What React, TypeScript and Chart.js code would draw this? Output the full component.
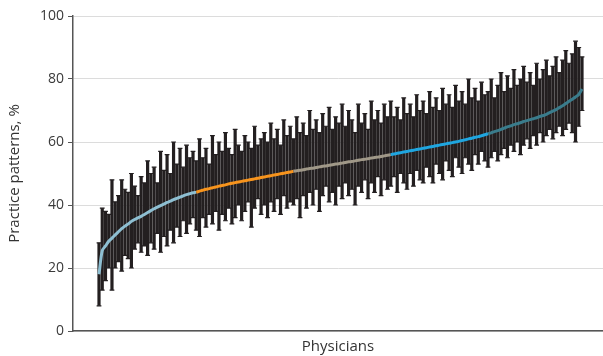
import React, { useEffect, useRef } from "react";
import { Chart, registerables } from "chart.js";

Chart.register(...registerables);

// Physician-level point estimates (sorted), %
const estimates: number[] = [
  18, 25.5, 27, 28.5, 29.5, 30.5, 31.5, 32.5, 33.3, 34,
  34.8, 35.4, 35.9, 36.4, 37, 37.6, 38.2, 38.8, 39.3, 39.8,
  40.3, 40.8, 41.2, 41.7, 42.1, 42.5, 42.9, 43.3, 43.6, 43.9,
  44.1, 44.4, 44.7, 45.0, 45.2, 45.5, 45.7, 46.0, 46.2, 46.4,
  46.7, 46.9, 47.1, 47.3, 47.5, 47.7, 47.9, 48.1, 48.3, 48.5,
  48.7, 48.9, 49.1, 49.3, 49.5, 49.7, 49.9, 50.1, 50.3, 50.5,
  50.7, 50.9, 51.0, 51.2, 51.4, 51.6, 51.7, 51.9, 52.1, 52.3,
  52.4, 52.6, 52.8, 53.0, 53.1, 53.3, 53.5, 53.7, 53.8, 54.0,
  54.2, 54.4, 54.5, 54.7, 54.9, 55.1, 55.2, 55.4, 55.6, 55.8,
  56.0, 56.2, 56.4, 56.6, 56.8, 57.0, 57.2, 57.4, 57.6, 57.8,
  58.0, 58.2, 58.4, 58.6, 58.8, 59.0, 59.2, 59.4, 59.6, 59.8,
  60.0, 60.2, 60.5, 60.7, 61.0, 61.2, 61.5, 61.7, 62.0, 62.3,
  62.6, 62.9, 63.3, 63.6, 64.0, 64.4, 64.8, 65.1, 65.5, 65.8,
  66.1, 66.5, 66.8, 67.1, 67.4, 67.7, 68.1, 68.4, 68.8, 69.3,
  69.8, 70.3, 70.9, 71.5, 72.2, 72.9, 73.6, 74.3, 75.1, 76.8,
];

// Upper limits of the intervals, %
const upperCI: number[] = [
  28, 39, 38, 37, 48, 41, 43, 48, 45, 44,
  50, 46, 43, 49, 47, 54, 50, 52, 47, 57,
  51, 56, 50, 60, 53, 58, 52, 59, 55, 57,
  54, 61, 55, 58, 53, 62, 56, 60, 57, 63,
  58, 56, 64, 59, 57, 62, 60, 58, 65, 59,
  61, 63, 60, 66, 61, 64, 59, 67, 62, 65,
  61, 68, 63, 66, 62, 70, 64, 67, 63, 69,
  65, 71, 64, 68, 66, 72, 65, 70, 67, 63,
  72, 66, 69, 64, 73, 67, 70, 66, 72, 68,
  73, 68, 71, 67, 74, 69, 72, 68, 75, 70,
  73, 69, 76, 71, 74, 70, 77, 72, 75, 71,
  78, 73, 76, 72, 80, 74, 77, 73, 79, 75,
  76, 80, 74, 78, 82, 76, 81, 77, 83, 78,
  80, 84, 79, 82, 78, 85, 80, 83, 86, 81,
  84, 87, 82, 86, 89, 85, 88, 92, 90, 87,
];

// Lower limits of the intervals, %
const lowerCI: number[] = [
  8, 13, 16, 20, 13, 20, 22, 19, 24, 23,
  20, 26, 28, 25, 27, 24, 28, 26, 31, 25,
  30, 27, 32, 28, 33, 30, 35, 31, 34, 36,
  32, 30, 36, 33, 37, 34, 38, 32, 37, 35,
  39, 34, 36, 40, 35, 38, 41, 33, 39, 42,
  37, 40, 36, 41, 38, 42, 37, 43, 39, 41,
  40, 42, 36, 43, 39, 44, 40, 45, 38, 43,
  46, 41, 44, 40, 46, 42, 47, 43, 45, 40,
  46, 44, 48, 42, 47, 44, 49, 43, 48, 45,
  46, 49, 44, 50, 47, 45, 50, 46, 51, 48,
  47, 52, 49, 47, 53, 50, 48, 54, 51, 49,
  55, 52, 50, 55, 53, 51, 56, 53, 57, 54,
  52, 55, 57, 54, 56, 58, 55, 59, 57, 60,
  56, 59, 61, 58, 62, 59, 63, 60, 62, 64,
  61, 63, 65, 62, 64, 66, 63, 60, 65, 70,
];

const quintileColors: string[] = ["#8ebfd2", "#f7941d", "#a09888", "#1fa6e0", "#3a7c8c"];
const yTicks: number[] = [0, 20, 40, 60, 80, 100];

const N = estimates.length;
const perQuintile = N / 5;

export default function App() {
  const ref = useRef<HTMLCanvasElement | null>(null);

  useEffect(() => {
    document.body.style.margin = "0";
    const canvas = ref.current;
    if (!canvas) return;

    const errorBars = {
      id: "errorBars",
      beforeDatasetsDraw(chart: any) {
        const { ctx, scales } = chart;
        const xs = scales.x;
        const ys = scales.y;
        ctx.save();
        ctx.lineCap = "butt";
        ctx.strokeStyle = "#231f20";
        ctx.lineWidth = 3.2;
        for (let i = 0; i < N; i++) {
          const x = xs.getPixelForValue(i);
          const yT = ys.getPixelForValue(upperCI[i]);
          const yB = ys.getPixelForValue(lowerCI[i]);
          ctx.beginPath();
          ctx.moveTo(x, yT);
          ctx.lineTo(x, yB);
          ctx.stroke();
        }
        ctx.lineWidth = 1.2;
        for (let i = 0; i < N; i++) {
          const x = xs.getPixelForValue(i);
          const yT = ys.getPixelForValue(upperCI[i]);
          const yB = ys.getPixelForValue(lowerCI[i]);
          ctx.beginPath();
          ctx.moveTo(x - 2.4, yT);
          ctx.lineTo(x + 2.4, yT);
          ctx.moveTo(x - 2.4, yB);
          ctx.lineTo(x + 2.4, yB);
          ctx.stroke();
        }
        ctx.restore();
      },
    };

    const points = estimates.map((v, i) => ({ x: i, y: v }));
    // first index at 26/530 of the axis, last index at 509/530
    const range = (N - 1) * 530 / 483;
    const xMin = -range * 26 / 530;
    const xMax = xMin + range;

    const chart = new Chart(canvas, {
      type: "line",
      data: {
        datasets: [
          {
            data: points,
            borderWidth: 3,
            pointRadius: 0,
            borderColor: quintileColors[0],
            segment: {
              borderColor: (c: any) =>
                quintileColors[Math.min(4, Math.floor(c.p0DataIndex / perQuintile))],
            },
            tension: 0.3,
          },
        ],
      },
      options: {
        animation: false,
        responsive: false,
        events: [],
        layout: { padding: { top: 16, right: 0, left: 0, bottom: 0 } },
        plugins: { legend: { display: false }, tooltip: { enabled: false } },
        scales: {
          x: {
            type: "linear",
            min: xMin,
            max: xMax,
            afterFit: (s: any) => { s.height = 25; },
            ticks: { display: false },
            grid: { display: false, drawTicks: false },
            border: { display: true, color: "#555555", width: 1.5 },
            title: {
              display: true,
              text: "Physicians",
              color: "#333333",
              font: { family: "Open Sans", size: 15 },
              padding: { top: 0, bottom: 0 },
            },
          },
          y: {
            min: 0,
            max: 100,
            afterFit: (s: any) => { s.width = 73; },
            afterBuildTicks: (s: any) => { s.ticks = yTicks.map((v) => ({ value: v })); },
            ticks: {
              color: "#3a3a3a",
              font: { family: "Open Sans", size: 14 },
              padding: 4,
            },
            grid: { color: "#dcdcdc", lineWidth: 1, tickColor: "#555555", tickLength: 5 },
            border: { display: true, color: "#555555", width: 1.5 },
            title: {
              display: true,
              text: "Practice patterns, %",
              color: "#333333",
              font: { family: "Open Sans", size: 15 },
              padding: { top: 6, bottom: 2 },
            },
          },
        },
      },
      plugins: [errorBars],
    });

    return () => chart.destroy();
  }, []);

  return (
    <div style={{ width: 603, height: 356 }}>
      <canvas ref={ref} width={603} height={356} />
    </div>
  );
}
